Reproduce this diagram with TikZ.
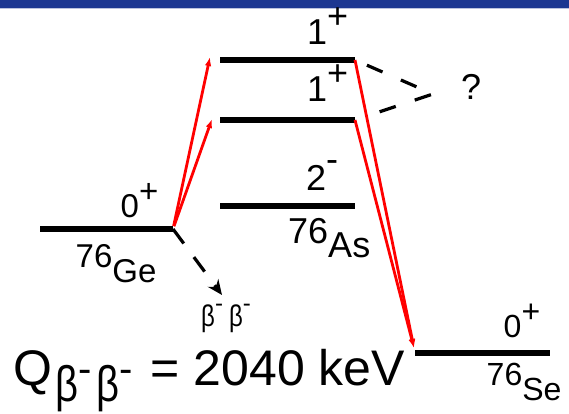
\documentclass[tikz,border=0pt]{standalone}
\usepackage{fontspec}
\setmainfont{Liberation Sans}
\usepackage{graphicx}
\usetikzlibrary{arrows.meta}
\definecolor{hdr}{RGB}{28,55,145}
\newcommand{\fs}[1]{\fontsize{#1}{#1}\selectfont}
\newcommand{\jp}[3][15pt]{#2\raisebox{#1}{#3}}
\newcommand{\iso}[3][15pt]{#2\raisebox{-#1}{#3}}
\newcommand{\tb}{\scalebox{1}[1.25]{β}}
\tikzset{
  lvl/.style={line width=6pt, draw=black},
  rarr/.style={-{Latex[length=9pt,width=6.5pt]}, line width=2.8pt, draw=red},
  dsh/.style={line width=3.2pt, draw=black, dash pattern=on 17pt off 20pt},
  lbl/.style={font=\fs{#1}, inner sep=0pt, anchor=base west},
  lbl/.default=34
}

\begin{document}
\begin{tikzpicture}[x=1pt, y=-1pt]
\useasboundingbox (0,0) rectangle (569,414);
% ---- header band ----
\fill[hdr] (0,0) rectangle (569,8);
\draw[hdr!30, line width=1pt] (0,8.5) -- (569,8.5);
% ---- levels ----
\foreach \n/\xa/\xb/\y in {ge/40/173/229, as/220/355/206, xa/220/355/120,
  xb/220/355/60, se/415/550/353}{
  \coordinate (\n-l) at (\xa,\y);
  \coordinate (\n-r) at (\xb,\y);
  \draw[lvl] (\n-l) -- (\n-r);}
\coordinate (xb-in) at (210,57);
\coordinate (xa-in) at (212,119);
\coordinate (se-in) at (414,348);
\coordinate (bb-tip) at (222,295);
\coordinate (qpt) at (433,94);
% ---- level labels ----
\node[lbl=33] (ge-jp) at (120.5,217) {\jp{0}{+}};
\node[lbl=33] (ge-nm) at (75.5,267) {\iso{76}{Ge}};
\node[lbl=36] (as-jp) at (306,190) {\jp[19pt]{2}{-}};
\node[lbl=36] (as-nm) at (288,243) {\iso[14pt]{76}{As}};
\node[lbl=36] (xa-jp) at (307,102) {\jp[16pt]{1}{+}};
\node[lbl=36] (xb-jp) at (307,45) {\jp[16pt]{1}{+}};
\node[lbl=32] (se-jp) at (503.5,337) {\jp{0}{+}};
\node[lbl=32] (se-nm) at (486.5,385) {\iso{76}{Se}};
\node[lbl=36] (qm) at (461,100) {?};
\node[lbl=24] (bb) at (201,326) {\tb\raisebox{15pt}{-}\hspace{6pt}\tb\raisebox{15pt}{-}};
\node[lbl=50] (qval) at (13,385)
  {Q\hspace{3pt}\raisebox{-16pt}{\fs{40}\tb\raisebox{19pt}{-}\hspace{5pt}\tb\raisebox{19pt}{-}}\hspace{18pt}= 2040 keV};
% ---- transitions ----
\draw[rarr, shorten <=3pt] (ge-r) -- (xb-in);
\draw[rarr, shorten <=3pt] (ge-r) -- (xa-in);
\draw[rarr] (xb-r) -- (se-in);
\draw[rarr] (xa-r) -- (se-in);
\draw[dsh, dash pattern=on 18pt off 17pt, -{Stealth[length=15pt,width=13pt]}] (ge-r) -- (bb-tip);
\draw[dsh, shorten <=13pt] (xb-r) -- (qpt);
\draw[dsh, shorten <=26pt] (xa-r) -- (qpt);
\end{tikzpicture}
\end{document}
